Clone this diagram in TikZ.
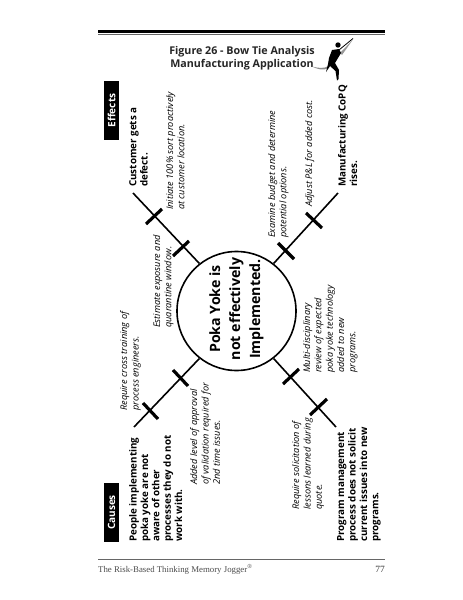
\documentclass[tikz,border=0pt]{standalone}
\usepackage{fontspec}
\setmainfont{Open Sans}
\newfontfamily\footfont{Liberation Serif}
\tikzset{
  spine/.style={line width=1.6pt,black},
  tick/.style={line width=3.2pt,black},
  cause/.style={rotate=90,anchor=north west,align=left,inner sep=0pt,font=\fontsize{9.8}{11.4}\selectfont\bfseries},
  fix/.style={rotate=90,anchor=north west,align=left,inner sep=0pt,font=\fontsize{9.2}{11.3}\selectfont\itshape,text=black},
  banner/.style={fill=black,text=white,rotate=90,minimum width=59pt,minimum height=15pt,inner sep=0pt,font=\fontsize{10}{12}\selectfont\bfseries},
  title/.style={align=center,inner sep=0pt,font=\fontsize{10.7}{13}\selectfont\bfseries,text=black!85}
}
\begin{document}
\begin{tikzpicture}[x=1pt,y=-1pt]
\useasboundingbox (0,0) rectangle (463,600);
\fill[white] (0,0) rectangle (463,600);
% rules
\fill[black] (98,30) rectangle (385,33);
\draw[black!60,line width=0.8pt] (98,34.8) -- (385,34.8);
\draw[black!60,line width=0.8pt] (98,559) -- (385,559);
% hub
\node[circle,draw,line width=1.6pt,minimum size=119pt,inner sep=0pt] (hub) at (236.5,311) {};
\node[rotate=90,align=center,inner sep=0pt,font=\fontsize{14.2}{20}\selectfont\bfseries] (hubtext) at (236.5,309) {Poka Yoke is\\not effectively\\Implemented.};
% spines
\coordinate (ul) at (133,193);
\coordinate (ur) at (338,193);
\coordinate (ll) at (134,427);
\coordinate (lr) at (336,427);
\draw[spine] (hub.128) -- (ul);
\draw[spine] (hub.52) -- (ur);
\draw[spine] (hub.232) -- (ll);
\draw[spine] (hub.308) -- (lr);
% ticks
\draw[tick] (146,224) -- (162,209);
\draw[tick] (173,256) -- (189,241);
\draw[tick] (278,243) -- (294,259);
\draw[tick] (306,213) -- (322,228);
\draw[tick] (173,370) -- (188,386);
\draw[tick] (143,403) -- (158,419);
\draw[tick] (283,384) -- (299,369);
\draw[tick] (310,415) -- (327,399);
% banners
\node[banner] (effects) at (111.5,110.5) {Effects};
\node[banner] (causes) at (111.5,512.5) {Causes};
% main labels
\node[cause] (c1) at (129,187) {Customer gets a\\defect.};
\node[cause] (c2) at (338,187) {Manufacturing CoPQ\\rises.};
\node[cause] (c3) at (129,542) {People implementing\\poka yoke are not\\aware of other\\processes they do not\\work with.};
\node[cause] (c4) at (337,542) {Program management\\process does not solicit\\current issues into new\\programs.};
% actions
\node[fix] (f1) at (166,210) {Initiate 100\% sort proactively\\at customer location.};
\node[fix] (f2) at (153,328) {Estimate exposure and\\quarantine window.};
\node[fix] (f3) at (268,238) {Examine budget and determine\\potential options.};
\node[fix] (f4) at (305,207) {Adjust P\&L for added cost.};
\node[fix] (f5) at (120,411) {Require cross training of\\process engineers.};
\node[fix] (f6) at (190,485) {Added level of approval\\of validation required for\\2nd time issues.};
\node[fix] (f7) at (303,373) {Multi-disciplinary\\review of expected\\poka yoke technology\\added to new\\programs.};
\node[fix] (f8) at (292,510) {Require solicitation of\\lessons learned during\\quote.};
% title
\node[title] (ttl) at (242,58) {Figure 26 - Bow Tie Analysis\\Manufacturing Application};
% runner
\fill[black!45] (312,66.5) .. controls (318,68) and (323,69) .. (329,66) -- (329,68) .. controls (323,71) and (317,69) .. (312,66.5) -- cycle;
\fill[black!40] (340,53) -- (353,39.5) -- (342,55) -- cycle;
\fill[black] (338,45) circle (2.7);
\draw[black,line width=0.8pt] (339,50) -- (353,38.5);
\fill[black] (332,50) -- (339,49) -- (341,53) -- (335,63) -- (339,70) -- (338.5,79) -- (337,80.5) -- (335.5,71) -- (330,66) -- (326,72) -- (328,64) -- (329,58) -- cycle;
% footer
\node[anchor=west,inner sep=0pt,text=black!70,font=\footfont\fontsize{8.8}{9}\selectfont] (foot) at (98,569) {The Risk-Based Thinking Memory Jogger\textsuperscript{®}};
\node[anchor=east,inner sep=0pt,text=black!80,font=\footfont\fontsize{9.5}{10}\selectfont] (page) at (385,569) {77};
\end{tikzpicture}
\end{document}
